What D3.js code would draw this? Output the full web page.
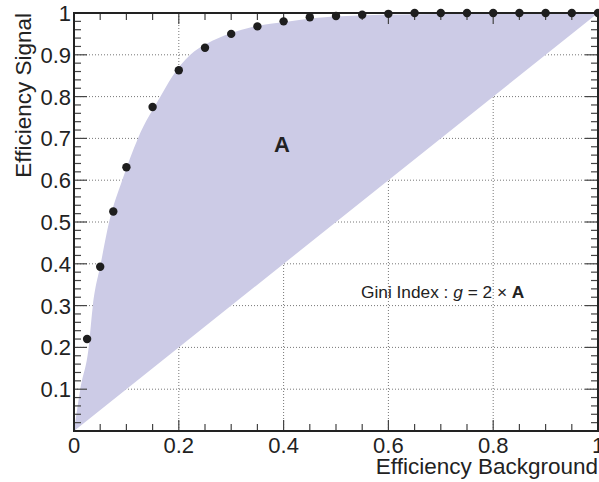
<!DOCTYPE html>
<html><head><meta charset="utf-8">
<script src="https://cdn.jsdelivr.net/npm/d3@7"></script>
<style>body{margin:0;background:#fff}svg{display:block}text{font-family:"Liberation Sans",Arial,Helvetica,sans-serif;fill:#222}</style>
</head><body><svg id="c" width="599" height="482"></svg>
<script>
// ROC points
const pointX = [0.025,0.05,0.075,0.1,0.15,0.2,0.25,0.3,0.35,0.4,0.45,0.5,0.55,0.6,0.65,0.7,0.75,0.8,0.85,0.9,0.95,1.0];
const pointY = [0.220,0.393,0.525,0.631,0.775,0.863,0.917,0.950,0.968,0.980,0.990,0.993,0.996,0.998,1.0,1.0,1.0,1.0,1.0,1.0,1.0,1.0];
// smooth curve bounding the shaded area
const curveX = [0,0.004,0.012,0.028,0.036,0.051,0.067,0.092,0.122,0.165,0.187,0.221,0.254,0.298,0.342,0.406,0.46,0.52,0.66,0.8,1.0];
const curveY = [0,0.035,0.10,0.20,0.30,0.40,0.50,0.60,0.70,0.80,0.847,0.899,0.927,0.951,0.967,0.979,0.988,0.993,0.997,0.999,1.0];
const xTicks = [0,0.2,0.4,0.6,0.8,1];
const xTickLabels = ["0","0.2","0.4","0.6","0.8","1"];
const yTicks = [0.1,0.2,0.3,0.4,0.5,0.6,0.7,0.8,0.9,1];
const yTickLabels = ["0.1","0.2","0.3","0.4","0.5","0.6","0.7","0.8","0.9","1"];

const L=74, R=598, T=13, B=431;
const svg = d3.select("#c");
const x = d3.scaleLinear().domain([0,1]).range([L,R]);
const y = d3.scaleLinear().domain([0,1]).range([B,T]);

// grid
const g = svg.append("g");
xTicks.filter(v=>v>0&&v<1).forEach(v=>g.append("line").attr("x1",x(v)).attr("x2",x(v)).attr("y1",B).attr("y2",T)
  .attr("stroke","#777").attr("stroke-width",1).attr("stroke-dasharray","1,2"));
yTicks.filter(v=>v<1).forEach(v=>g.append("line").attr("x1",L).attr("x2",R).attr("y1",y(v)).attr("y2",y(v))
  .attr("stroke","#777").attr("stroke-width",1).attr("stroke-dasharray","1,2"));

// shaded area between curve and diagonal
const area = curveX.map((v,i)=>[v,curveY[i]]);
const lineGen = d3.line().x(d=>x(d[0])).y(d=>y(d[1])).curve(d3.curveMonotoneX);
const pathD = lineGen(area) + "L" + x(0) + "," + y(0) + "Z";
svg.append("path").attr("d", pathD).attr("fill","#cccbe6");

// minor/major ticks on all four sides
const tk = svg.append("g").attr("stroke","#444").attr("stroke-width",1.2);
d3.range(0,1.0001,0.05).forEach(v=>{
  const major = Math.abs(v*5-Math.round(v*5))<1e-6;
  const len = major?11:7;
  tk.append("line").attr("x1",x(v)).attr("x2",x(v)).attr("y1",B).attr("y2",B-len);
  tk.append("line").attr("x1",x(v)).attr("x2",x(v)).attr("y1",T).attr("y2",T+len);
});
d3.range(0,1.0001,0.02).forEach(v=>{
  const major = Math.abs(v*10-Math.round(v*10))<1e-6;
  const len = major?13:7;
  tk.append("line").attr("y1",y(v)).attr("y2",y(v)).attr("x1",L).attr("x2",L+len);
  tk.append("line").attr("y1",y(v)).attr("y2",y(v)).attr("x1",R).attr("x2",R-len);
});

// frame
svg.append("rect").attr("x",L).attr("y",T).attr("width",R-L).attr("height",B-T)
  .attr("fill","none").attr("stroke","#222").attr("stroke-width",2);

// points
svg.append("g").selectAll("circle").data(pointX).join("circle")
  .attr("cx",d=>x(d)).attr("cy",(d,i)=>y(pointY[i])).attr("r",4.2).attr("fill","#1e1e1e");

// tick labels
svg.append("g").selectAll("text").data(xTicks).join("text")
  .attr("x",d=>x(d)).attr("y",452.5).attr("text-anchor","middle").attr("font-size",22)
  .text((d,i)=>xTickLabels[i]);
svg.append("g").selectAll("text").data(yTicks).join("text")
  .attr("x",71).attr("y",d=>y(d)+8).attr("text-anchor","end").attr("font-size",22)
  .text((d,i)=>yTickLabels[i]);

// axis titles
svg.append("text").attr("x",598).attr("y",474).attr("text-anchor","end").attr("font-size",22.5).text("Efficiency Background");
svg.append("text").attr("transform","translate(31,13) rotate(-90)").attr("text-anchor","end").attr("font-size",22.5).text("Efficiency Signal");

// annotations
svg.append("text").attr("x",282).attr("y",152).attr("text-anchor","middle").attr("font-size",22).attr("font-weight","bold").text("A");
const gi = svg.append("text").attr("x",361).attr("y",297.5).attr("font-size",17.3);
gi.append("tspan").text("Gini Index : ");
gi.append("tspan").attr("font-style","italic").text("g");
gi.append("tspan").text(" = 2 \u00d7 ");
gi.append("tspan").attr("font-weight","bold").text("A");
</script></body></html>
